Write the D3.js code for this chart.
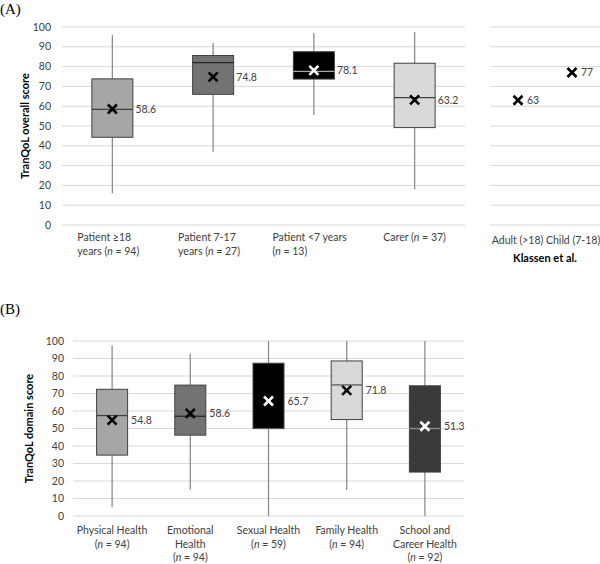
<!DOCTYPE html>
<html>
<head>
<meta charset="utf-8">
<script src="https://cdn.jsdelivr.net/npm/d3@7"></script>
<style>
    body { margin: 0; background: #fff; }
    text { font-family: Lato, "Noto Sans", sans-serif; fill: #404040; }
</style>
</head>
<body>
<svg id="chart" width="600" height="564"></svg>
<script>
    "use strict";

    // panel A - overall score
    const catA = [["Patient \u226518", "years (n = 94)"], ["Patient 7-17", "years (n = 27)"], ["Patient <7 years", "(n = 13)"], ["Carer (n = 37)"]];
    const minA = [16, 37, 55.5, 18];
    const q1A = [44.3, 66, 73.7, 49.2];
    const medA = [58.4, 82, 77.6, 64.3];
    const q3A = [73.8, 85.6, 87.5, 81.7];
    const maxA = [96, 91.8, 97, 97.5];
    const meanA = [58.6, 74.8, 78.1, 63.2];

    // Klassen et al. reference points
    const klassenCats = ["Adult (>18)", "Child (7-18)"];
    const klassenVals = [63, 77];

    // panel B - domain scores
    const catB = [["Physical Health", "(n = 94)"], ["Emotional", "Health", "(n = 94)"], ["Sexual Health", "(n = 59)"], ["Family Health", "(n = 94)"], ["School and", "Career Health", "(n = 92)"]];
    const minB = [5, 15.2, 0, 14.8, 0];
    const q1B = [34.8, 46.2, 50, 55.1, 25.1];
    const medB = [57.4, 57, 50, 74.9, 50];
    const q3B = [72.4, 74.8, 87.3, 88.6, 74.4];
    const maxB = [97.5, 92.8, 100, 100, 100];
    const meanB = [54.8, 58.6, 65.7, 71.8, 51.3];

    const yTicks = d3.range(0, 101, 10);

    const styleA = [
        { fill: "#a6a6a6", med: "#404040", mark: "#000" },
        { fill: "#737373", med: "#262626", mark: "#000" },
        { fill: "#000000", med: "#a6a6a6", mark: "#fff" },
        { fill: "#d9d9d9", med: "#404040", mark: "#000" }
    ];
    const styleB = [
        { fill: "#a6a6a6", med: "#404040", mark: "#000" },
        { fill: "#737373", med: "#262626", mark: "#000" },
        { fill: "#000000", med: "#595959", mark: "#fff" },
        { fill: "#d9d9d9", med: "#595959", mark: "#000" },
        { fill: "#3a3a3a", med: "#8c8c8c", mark: "#fff" }
    ];

    const svg = d3.select("#chart");

    let gridLines = (g, y, x0, x1) => {
        g.append("g")
            .selectAll("line")
            .data(yTicks)
            .enter()
            .append("line")
            .attr("x1", x0).attr("x2", x1)
            .attr("y1", (d) => y(d)).attr("y2", (d) => y(d))
            .attr("stroke", "#d9d9d9")
            .attr("stroke-width", 1);
    };

    let yLabels = (g, y, xr) => {
        g.append("g")
            .selectAll("text")
            .data(yTicks)
            .enter()
            .append("text")
            .attr("x", xr)
            .attr("y", (d) => y(d))
            .attr("dy", "0.35em")
            .attr("text-anchor", "end")
            .attr("font-size", 10.5)
            .text((d) => d);
    };

    // writes a line, italicising the "n" in "(n = ..)"
    let writeLine = (t, line) => {
        let m = line.match(/^(.*\()n( = .*)$/);
        if (!m) {
            t.text(line);
            return;
        }
        t.append("tspan").text(m[1]);
        t.append("tspan").attr("font-style", "italic").text("n");
        t.append("tspan").text(m[2]);
    };

    let crossMark = (g, cx, cy, color) => {
        let s = 4.5;
        g.append("path")
            .attr("d", `M${cx - s},${cy - s}L${cx + s},${cy + s}M${cx - s},${cy + s}L${cx + s},${cy - s}`)
            .attr("stroke", color)
            .attr("stroke-width", 2.6)
            .attr("fill", "none");
    };

    let drawBoxes = (g, x, y, boxW, data, styles, labelOffset) => {
        data.mins.forEach((mn, i) => {
            let cx = x(i) + x.bandwidth() / 2;
            let st = styles[i];
            g.append("line")
                .attr("x1", cx).attr("x2", cx)
                .attr("y1", y(mn)).attr("y2", y(data.q1[i]))
                .attr("stroke", "#8c8c8c").attr("stroke-width", 1.3);
            g.append("line")
                .attr("x1", cx).attr("x2", cx)
                .attr("y1", y(data.q3[i])).attr("y2", y(data.maxs[i]))
                .attr("stroke", "#8c8c8c").attr("stroke-width", 1.3);
            g.append("rect")
                .attr("x", cx - boxW / 2)
                .attr("y", y(data.q3[i]))
                .attr("width", boxW)
                .attr("height", y(data.q1[i]) - y(data.q3[i]))
                .attr("fill", st.fill)
                .attr("stroke", "#404040")
                .attr("stroke-width", 1);
            g.append("line")
                .attr("x1", cx - boxW / 2).attr("x2", cx + boxW / 2)
                .attr("y1", y(data.meds[i])).attr("y2", y(data.meds[i]))
                .attr("stroke", st.med).attr("stroke-width", 1.3);
            crossMark(g, cx, y(data.means[i]), st.mark);
            g.append("text")
                .attr("x", cx + labelOffset)
                .attr("y", y(data.means[i]))
                .attr("dy", "0.35em")
                .attr("font-size", 10.5)
                .text(data.means[i]);
        });
    };

    let catLabels = (g, x, cats, y0, lineH, alignLeft) => {
        cats.forEach((lines, i) => {
            let cx = x(i) + x.bandwidth() / 2;
            let left = alignLeft && lines.length > 1;
            let t = g.append("text")
                .attr("font-size", 10.5)
                .attr("text-anchor", left ? "start" : "middle");
            lines.forEach((line, j) => {
                let ts = t.append("tspan").attr("x", cx).attr("y", y0 + j * lineH);
                writeLine(ts, line);
            });
            if (left) {
                let w = t.node().getBBox().width;
                t.selectAll(":scope > tspan").attr("x", cx - w / 2 - 4);
            }
        });
    };

    // ---------- panel A ----------
    let gA = svg.append("g");
    let yA = d3.scaleLinear().domain([0, 100]).range([225, 27]);
    let xA = d3.scaleBand().domain(d3.range(catA.length)).range([62, 465]);

    gridLines(gA, yA, 62, 465);
    gridLines(gA, yA, 490, 600);
    yLabels(gA, yA, 51);

    drawBoxes(gA, xA, yA, 41, { mins: minA, q1: q1A, meds: medA, q3: q3A, maxs: maxA, means: meanA }, styleA, 23);
    catLabels(gA, xA, catA, 241, 13.5, true);

    let xK = d3.scalePoint().domain(klassenCats).range([518, 572]);
    klassenCats.forEach((c, i) => {
        crossMark(gA, xK(c), yA(klassenVals[i]), "#000");
        gA.append("text")
            .attr("x", xK(c) + 9)
            .attr("y", yA(klassenVals[i]))
            .attr("dy", "0.35em")
            .attr("font-size", 10.5)
            .text(klassenVals[i]);
    });
    gA.append("text")
        .attr("x", 546).attr("y", 244)
        .attr("text-anchor", "middle")
        .attr("font-size", 10.5)
        .text(klassenCats.join(" "));
    gA.append("text")
        .attr("x", 545).attr("y", 262)
        .attr("text-anchor", "middle")
        .attr("font-size", 11)
        .attr("font-weight", "bold")
        .style("fill", "#000")
        .text("Klassen et al.");

    gA.append("text")
        .attr("transform", `translate(29,${yA(50)}) rotate(-90)`)
        .attr("text-anchor", "middle")
        .attr("font-size", 11)
        .attr("font-weight", "bold")
        .style("fill", "#000")
        .text("TranQoL overall score");

    svg.append("text")
        .attr("x", 0).attr("y", 14)
        .style("font-family", "'Liberation Serif', 'Times New Roman', serif")
        .style("fill", "#000")
        .attr("font-size", 15)
        .text("(A)");

    // ---------- panel B ----------
    let gB = svg.append("g");
    let yB = d3.scaleLinear().domain([0, 100]).range([516, 341]);
    let xB = d3.scaleBand().domain(d3.range(catB.length)).range([73, 464]);

    gridLines(gB, yB, 73, 464);
    yLabels(gB, yB, 64);

    drawBoxes(gB, xB, yB, 31, { mins: minB, q1: q1B, meds: medB, q3: q3B, maxs: maxB, means: meanB }, styleB, 19);
    catLabels(gB, xB, catB, 534, 13.5, false);

    gB.append("text")
        .attr("transform", `translate(33,${yB(50)}) rotate(-90)`)
        .attr("text-anchor", "middle")
        .attr("font-size", 11)
        .attr("font-weight", "bold")
        .style("fill", "#000")
        .text("TranQoL domain score");

    svg.append("text")
        .attr("x", 0).attr("y", 314)
        .style("font-family", "'Liberation Serif', 'Times New Roman', serif")
        .style("fill", "#000")
        .attr("font-size", 15)
        .text("(B)");
</script>
</body>
</html>
